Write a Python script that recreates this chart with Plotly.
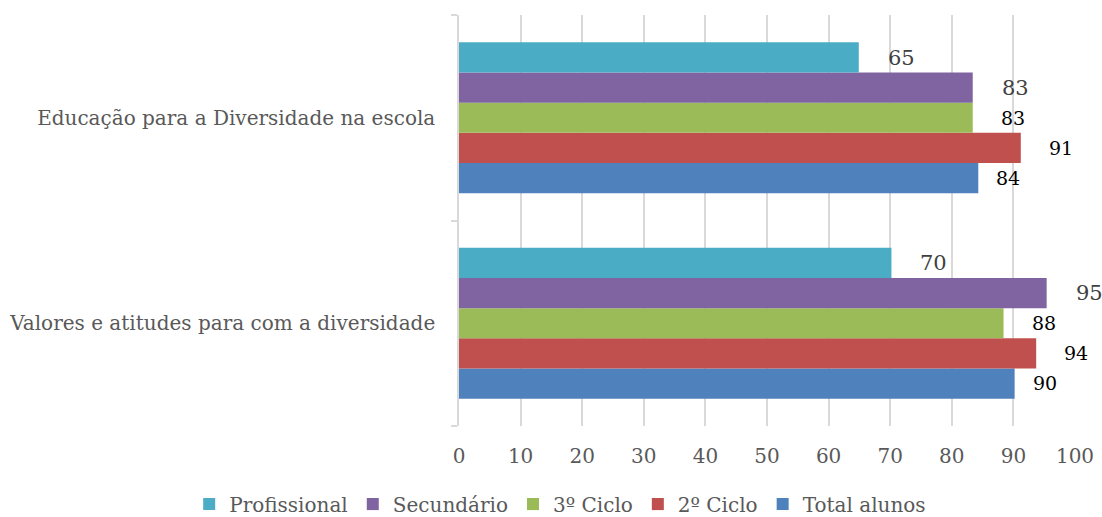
import plotly.graph_objects as go

categories = ["Educação para a Diversidade na escola",
              "Valores e atitudes para com a diversidade"]
series_names = ["Total alunos", "2º Ciclo", "3º Ciclo", "Secundário", "Profissional"]
total_alunos = [84.3, 90.2]
ciclo2 = [91.2, 93.7]
ciclo3 = [83.4, 88.4]
secundario = [83.4, 95.4]
profissional = [64.9, 70.2]
x_ticks = [0, 10, 20, 30, 40, 50, 60, 70, 80, 90, 100]

values = [total_alunos, ciclo2, ciclo3, secundario, profissional]
colors = ["#4F81BD", "#C0504D", "#9BBB59", "#8064A2", "#4BACC6"]
label_colors = ["#000000", "#000000", "#000000", "#404040", "#404040"]
label_sizes = [19, 19, 19, 21, 21]
label_xshift = [16, 26, 26, 27, 27]
label_yshift = [-60, -30, 0, 30, 60]

FONT = "DejaVu Serif"
GREY = "#595959"

fig = go.Figure()
for name, vals, col in zip(series_names, values, colors):
    fig.add_trace(go.Bar(
        y=categories, x=vals, name=name, orientation="h",
        marker=dict(color=col, line=dict(width=0)),
    ))

annotations = []
for vals, lc, ls, xs, ys in zip(values, label_colors, label_sizes, label_xshift, label_yshift):
    for cat, v in zip(categories, vals):
        annotations.append(dict(
            x=v, y=cat, xref="x", yref="y", text=f"{v:.0f}", showarrow=False,
            xanchor="left", yanchor="middle", xshift=xs, yshift=ys,
            font=dict(family=FONT, size=ls, color=lc),
        ))

fig.update_layout(
    width=1102, height=517,
    paper_bgcolor="white", plot_bgcolor="white",
    margin=dict(l=459, r=27, t=15, b=91, autoexpand=False),
    barmode="group", bargap=0.265, bargroupgap=0,
    font=dict(family=FONT, size=20, color=GREY),
    annotations=annotations,
    legend=dict(
        orientation="h", traceorder="reversed",
        xref="paper", yref="paper",
        x=-0.438, xanchor="left", y=-0.19, yanchor="middle",
        font=dict(family=FONT, size=20, color=GREY),
        itemwidth=30,
    ),
    xaxis=dict(
        range=[0, 100], tickvals=x_ticks, showgrid=True,
        gridcolor="#d9d9d9", gridwidth=1.5, zeroline=False,
        showline=False, ticks="", ticklabelstandoff=16,
        tickfont=dict(family=FONT, size=20, color=GREY),
        fixedrange=True, automargin=False,
    ),
    yaxis=dict(
        categoryorder="array", categoryarray=categories[::-1],
        showline=True, linecolor="#d9d9d9", linewidth=1.5,
        ticks="outside", tickson="boundaries", ticklen=6,
        tickcolor="#d9d9d9", tickwidth=1.5,
        ticklabelstandoff=18, automargin=False,
        tickfont=dict(family=FONT, size=20, color=GREY),
        showgrid=False,
    ),
    showlegend=True,
)

fig.write_html(
    "out.html",
    config={"displayModeBar": False},
    post_script="document.body.style.margin='0';document.body.style.overflow='hidden';",
)
